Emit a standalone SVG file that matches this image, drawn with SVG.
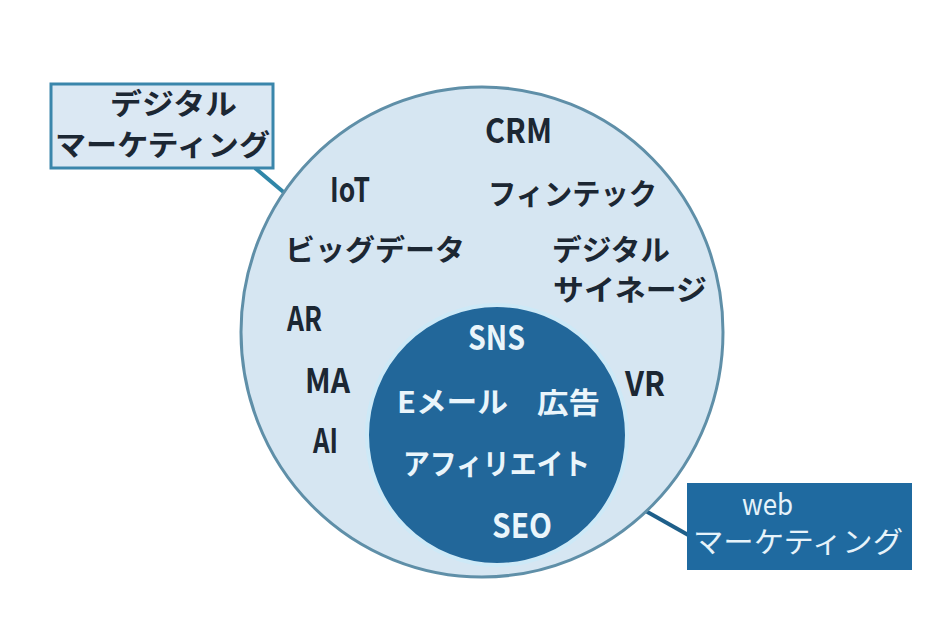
<svg xmlns="http://www.w3.org/2000/svg" width="938" height="640" viewBox="0 0 938 640">
<style>
.dk{font-family:"Noto Sans CJK JP","Liberation Sans",sans-serif;font-weight:bold;fill:#1c2733;font-size:29px}
.lt{font-family:"Noto Sans CJK JP","Liberation Sans",sans-serif;font-weight:bold;fill:#eaf5fb;font-size:29px}
.wt{font-family:"Noto Sans CJK JP","Liberation Sans",sans-serif;font-weight:normal;fill:#e6f3fa;font-size:29px}
.lat{font-size:34px}
</style>
<rect width="938" height="640" fill="#ffffff"/>
<g id="connectors">
<line x1="255" y1="168" x2="287" y2="195" stroke="#2f86a8" stroke-width="4"/>
<line x1="612" y1="492" x2="690" y2="536" stroke="#1e5f8a" stroke-width="4"/>
</g>
<g id="digital-marketing-circle">
<ellipse cx="482" cy="332" rx="241" ry="245" fill="#d6e6f2" stroke="#5f8fa8" stroke-width="3"/>
<text class="dk lat" x="485" y="143" textLength="67" lengthAdjust="spacingAndGlyphs">CRM</text>
<text class="dk lat" x="330" y="202" textLength="40" lengthAdjust="spacingAndGlyphs">IoT</text>
<text class="dk" x="488" y="205" textLength="169" lengthAdjust="spacingAndGlyphs">フィンテック</text>
<text class="dk" x="285" y="261" textLength="180" lengthAdjust="spacingAndGlyphs">ビッグデータ</text>
<text class="dk" x="552" y="261" textLength="118" lengthAdjust="spacingAndGlyphs">デジタル</text>
<text class="dk" x="553" y="301" textLength="154" lengthAdjust="spacingAndGlyphs">サイネージ</text>
<text class="dk lat" x="287" y="331" textLength="35" lengthAdjust="spacingAndGlyphs">AR</text>
<text class="dk lat" x="305" y="393" textLength="45" lengthAdjust="spacingAndGlyphs">MA</text>
<text class="dk lat" x="313" y="453" textLength="25" lengthAdjust="spacingAndGlyphs">AI</text>
<text class="dk lat" x="625" y="396" textLength="40" lengthAdjust="spacingAndGlyphs">VR</text>
</g>
<g id="web-marketing-circle">
<circle cx="497" cy="435" r="130" fill="#22679a" stroke="#cde9f7" stroke-width="4"/>
<text class="lt lat" x="468" y="350" textLength="57" lengthAdjust="spacingAndGlyphs">SNS</text>
<text class="lt" x="397" y="413" textLength="111" lengthAdjust="spacingAndGlyphs">Eメール</text>
<text class="lt" x="537" y="414" textLength="63" lengthAdjust="spacingAndGlyphs">広告</text>
<text class="lt" x="403" y="475" textLength="187" lengthAdjust="spacingAndGlyphs">アフィリエイト</text>
<text class="lt lat" x="492" y="538" textLength="60" lengthAdjust="spacingAndGlyphs">SEO</text>
</g>
<g id="label-digital-marketing">
<rect x="51" y="84" width="222" height="84" fill="#dbe8f3" stroke="#3a86ab" stroke-width="3"/>
<text class="dk" x="110" y="115" textLength="127" lengthAdjust="spacingAndGlyphs">デジタル</text>
<text class="dk" x="55" y="156" textLength="215" lengthAdjust="spacingAndGlyphs">マーケティング</text>
</g>
<g id="label-web-marketing">
<rect x="687" y="483" width="225" height="87" fill="#1f6aa0"/>
<text class="wt" x="742" y="515" font-size="27" textLength="51" lengthAdjust="spacingAndGlyphs">web</text>
<text class="wt" x="693" y="553" textLength="210" lengthAdjust="spacingAndGlyphs">マーケティング</text>
</g>
</svg>
